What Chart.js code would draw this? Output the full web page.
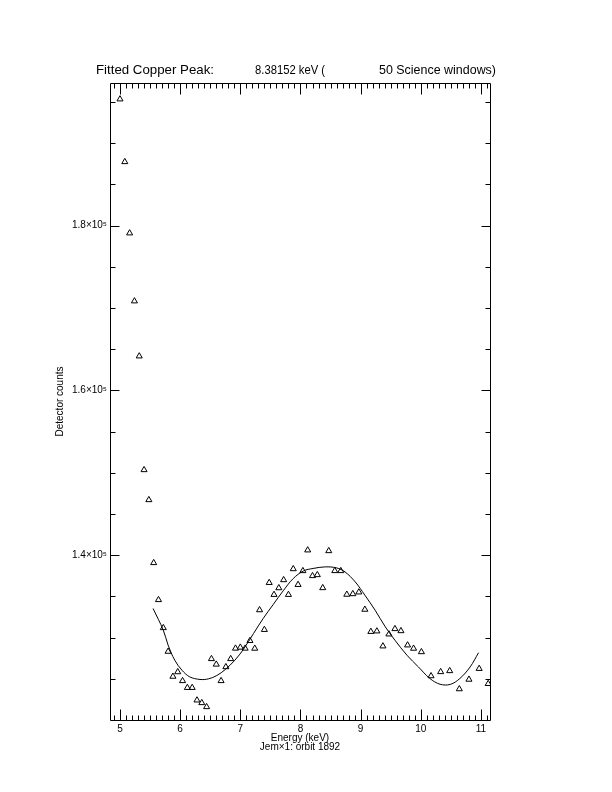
<!DOCTYPE html>
<html>
<head>
<meta charset="utf-8">
<script src="https://cdn.jsdelivr.net/npm/chart.js@4.4.1/dist/chart.umd.min.js"></script>
<style>
  body { margin: 0; background: #fff; }
  canvas { display: block; }
</style>
</head>
<body>
<canvas id="peak-chart" width="612" height="792"></canvas>
<script>
// measured spectrum points (keV, detector counts)
const energies = [
  5.00, 5.08, 5.16, 5.24, 5.32, 5.40, 5.48, 5.56, 5.64, 5.72,
  5.80, 5.88, 5.96, 6.04, 6.12, 6.20, 6.28, 6.36, 6.44, 6.52,
  6.60, 6.68, 6.76, 6.84, 6.92, 7.00, 7.08, 7.16, 7.24, 7.32,
  7.40, 7.48, 7.56, 7.64, 7.72, 7.80, 7.88, 7.96, 8.04, 8.12,
  8.20, 8.28, 8.37, 8.47, 8.57, 8.67, 8.77, 8.87, 8.97, 9.07,
  9.17, 9.27, 9.37, 9.47, 9.57, 9.67, 9.78, 9.88, 10.01, 10.17,
  10.33, 10.48, 10.64, 10.80, 10.97, 11.12];
const counts = [
  195340, 187730, 179080, 170830, 164150, 150350, 146710, 139070, 134580, 131180,
  128310, 125280, 125830, 124750, 123920, 123920, 122400, 122080, 121590, 127420,
  126750, 124750, 126440, 127420, 128690, 128810, 128690, 129620, 128680, 133350,
  130960, 136660, 135210, 136020, 137000, 135210, 138330, 136420, 138100, 140610,
  137490, 137610, 136030, 140520, 138100, 138100, 135230, 135300, 135510, 133410,
  130720, 130780, 128960, 130410, 131060, 130810, 129080, 128680, 128260, 125340,
  125840, 125960, 123760, 124920, 126230, 124400];

// fitted curve
const fitEnergies = [
  5.55, 5.72, 5.80, 5.91, 6.03, 6.16, 6.33, 6.47, 6.61, 6.75,
  6.91, 7.05, 7.22, 7.38, 7.55, 7.72, 7.88, 8.05, 8.21, 8.41,
  8.60, 8.74, 8.91, 9.07, 9.24, 9.41, 9.57, 9.77, 9.96, 10.15,
  10.32, 10.49, 10.65, 10.82, 10.96];
const fitCounts = [
  133530, 130900, 129080, 127260, 126040, 125230, 124920, 124990, 125400, 126130,
  127260, 128560, 130500, 132320, 134050, 135750, 137170, 138090, 138390, 138580,
  138460, 137970, 136760, 135150, 133330, 131300, 129680, 127860, 126440, 125040,
  124340, 124320, 125040, 126440, 128170];

const xTickValues = [5, 6, 7, 8, 9, 10, 11];
const xTickLabels = ['5', '6', '7', '8', '9', '10', '11'];
const yTickValues = [140000, 160000, 180000];
const yTickLabels = ['1.4×10⁵', '1.6×10⁵', '1.8×10⁵'];

const xMin = 4.834, xMax = 11.15;
const yMin = 120000, yMax = 197300;

const FONT = '"Liberation Sans", Arial, sans-serif';

function toPoints(xs, ys) {
  return xs.map((x, i) => ({ x: x, y: ys[i] }));
}

// draw text squeezed/stretched to a given width
function fitText(ctx, text, x, y, width) {
  const w = ctx.measureText(text).width;
  ctx.save();
  ctx.translate(x, y);
  ctx.scale(width / w, 1);
  ctx.fillText(text, 0, 0);
  ctx.restore();
}

// IDL-style box: frame, inward ticks on all sides, title
const idlBox = {
  id: 'idlBox',
  afterDraw(chart) {
    const ctx = chart.ctx;
    const area = chart.chartArea;
    const xs = chart.scales.x;
    const ys = chart.scales.y;
    const L = Math.round(area.left) + 0.5, R = Math.round(area.right) + 0.5;
    const T = Math.round(area.top) + 0.5, B = Math.round(area.bottom) + 0.5;

    ctx.save();
    ctx.strokeStyle = '#000';
    ctx.lineWidth = 1;
    ctx.beginPath();
    ctx.rect(L, T, R - L, B - T);

    // x ticks, every 0.1 keV
    for (let k = Math.ceil(xMin * 10); k <= Math.floor(xMax * 10); k++) {
      const px = Math.round(xs.getPixelForValue(k / 10)) + 0.5;
      const len = k % 10 === 0 ? 11 : 5;
      ctx.moveTo(px, B); ctx.lineTo(px, B - len);
      ctx.moveTo(px, T); ctx.lineTo(px, T + len);
    }
    // y ticks, every 5000 counts
    for (let v = 125000; v <= yMax; v += 5000) {
      const py = Math.round(ys.getPixelForValue(v)) + 0.5;
      const len = v % 20000 === 0 ? 9 : 5;
      ctx.moveTo(L, py); ctx.lineTo(L + len, py);
      ctx.moveTo(R, py); ctx.lineTo(R - len, py);
    }
    ctx.stroke();

    // title
    ctx.fillStyle = '#000';
    ctx.font = '13px ' + FONT;
    ctx.textBaseline = 'alphabetic';
    ctx.textAlign = 'left';
    fitText(ctx, 'Fitted Copper Peak:', 96, 74, 118);
    fitText(ctx, '8.38152 keV (', 255, 74, 70);
    fitText(ctx, '50 Science windows)', 379, 74, 117);
    ctx.restore();
  }
};

new Chart(document.getElementById('peak-chart'), {
  type: 'scatter',
  data: {
    datasets: [
      {
        label: 'Counts',
        data: toPoints(energies, counts),
        pointStyle: 'triangle',
        pointRadius: 3.5,
        borderColor: '#000',
        backgroundColor: 'rgba(0,0,0,0)',
        borderWidth: 1,
        showLine: false
      },
      {
        label: 'Fit',
        data: toPoints(fitEnergies, fitCounts),
        showLine: true,
        pointRadius: 0,
        borderColor: '#000',
        borderWidth: 1,
        tension: 0.35
      }
    ]
  },
  options: {
    responsive: false,
    animation: false,
    layout: { padding: { left: 0, right: 122, top: 83, bottom: 0 } },
    plugins: {
      legend: { display: false },
      tooltip: { enabled: false }
    },
    scales: {
      x: {
        type: 'linear',
        min: xMin,
        max: xMax,
        afterBuildTicks: (scale) => { scale.ticks = xTickValues.map(v => ({ value: v })); },
        afterFit: (scale) => { scale.height = 72; },
        grid: { display: false, drawTicks: false },
        border: { display: false },
        ticks: {
          color: '#000',
          font: { family: FONT, size: 10 },
          padding: 3,
          maxRotation: 0,
          callback: (v) => xTickLabels[xTickValues.indexOf(v)]
        },
        title: {
          display: true,
          text: ['Energy (keV)', 'Jem×1: orbit 1892'],
          color: '#000',
          font: { family: FONT, size: 10, lineHeight: 0.9 },
          padding: { top: 0, bottom: 40 }
        }
      },
      y: {
        type: 'linear',
        min: yMin,
        max: yMax,
        afterBuildTicks: (scale) => { scale.ticks = yTickValues.map(v => ({ value: v })); },
        afterFit: (scale) => { scale.width = 110; },
        grid: { display: false, drawTicks: false },
        border: { display: false },
        ticks: {
          color: '#000',
          font: { family: FONT, size: 10 },
          padding: 3,
          callback: (v) => yTickLabels[yTickValues.indexOf(v)]
        },
        title: {
          display: true,
          text: 'Detector counts',
          color: '#000',
          font: { family: FONT, size: 10 },
          padding: { top: 54, bottom: 0 }
        }
      }
    }
  },
  plugins: [idlBox]
});
</script>
</body>
</html>
